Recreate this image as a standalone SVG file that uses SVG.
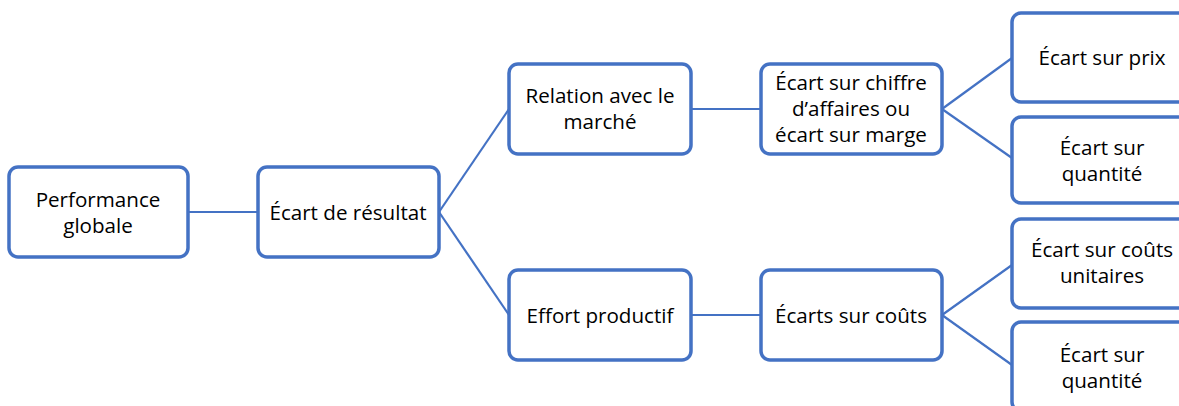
<svg xmlns="http://www.w3.org/2000/svg" width="1179" height="406" viewBox="0 0 1179 406">
  <style>
    .box { fill: #ffffff; stroke: #4472C4; stroke-width: 3.5; }
    .lbl { font-family: "Open Sans", "Liberation Sans", Arial, sans-serif; font-size: 20.6px; fill: #000000; text-anchor: middle; }
    .link { fill: none; stroke: #4472C4; stroke-width: 2.2; }
  </style>
  <rect width="1179" height="406" fill="#ffffff"/>

  <g id="connectors">
    <line class="link" x1="188" y1="212" x2="258" y2="212"/>
    <line class="link" x1="439" y1="212" x2="509" y2="109"/>
    <line class="link" x1="439" y1="212" x2="509" y2="315"/>
    <line class="link" x1="691" y1="109" x2="761" y2="109"/>
    <line class="link" x1="691" y1="315" x2="761" y2="315"/>
    <line class="link" x1="942" y1="109" x2="1012" y2="58"/>
    <line class="link" x1="942" y1="109" x2="1012" y2="158"/>
    <line class="link" x1="942" y1="315" x2="1012" y2="265"/>
    <line class="link" x1="942" y1="315" x2="1012" y2="365"/>
  </g>

  <g id="performance-globale">
    <rect class="box" x="9" y="167" width="179" height="90" rx="9"/>
    <text class="lbl" x="98" y="207">Performance</text>
    <text class="lbl" x="98" y="233">globale</text>
  </g>

  <g id="ecart-resultat">
    <rect class="box" x="258" y="167" width="181" height="90" rx="9"/>
    <text class="lbl" x="348" y="220">Écart de résultat</text>
  </g>

  <g id="relation-marche">
    <rect class="box" x="509" y="64" width="182" height="90" rx="9"/>
    <text class="lbl" x="600" y="103">Relation avec le</text>
    <text class="lbl" x="600" y="129">marché</text>
  </g>

  <g id="ecart-ca-marge">
    <rect class="box" x="761" y="64" width="181" height="90" rx="9"/>
    <text class="lbl" x="851" y="90">Écart sur chiffre</text>
    <text class="lbl" x="851" y="116">d’affaires ou</text>
    <text class="lbl" x="851" y="142">écart sur marge</text>
  </g>

  <g id="effort-productif">
    <rect class="box" x="509" y="270" width="182" height="90" rx="9"/>
    <text class="lbl" x="600" y="323">Effort productif</text>
  </g>

  <g id="ecarts-couts">
    <rect class="box" x="761" y="270" width="181" height="90" rx="9"/>
    <text class="lbl" x="851" y="323">Écarts sur coûts</text>
  </g>

  <g id="ecart-prix">
    <rect class="box" x="1012" y="13" width="180" height="89" rx="9"/>
    <text class="lbl" x="1102" y="65">Écart sur prix</text>
  </g>

  <g id="ecart-quantite-ventes">
    <rect class="box" x="1012" y="117" width="180" height="86" rx="9"/>
    <text class="lbl" x="1102" y="155">Écart sur</text>
    <text class="lbl" x="1102" y="181">quantité</text>
  </g>

  <g id="ecart-couts-unitaires">
    <rect class="box" x="1012" y="219" width="180" height="89" rx="9"/>
    <text class="lbl" x="1102" y="257">Écart sur coûts</text>
    <text class="lbl" x="1102" y="283">unitaires</text>
  </g>

  <g id="ecart-quantite-couts">
    <rect class="box" x="1012" y="322" width="180" height="89" rx="9"/>
    <text class="lbl" x="1102" y="362">Écart sur</text>
    <text class="lbl" x="1102" y="388">quantité</text>
  </g>
</svg>
